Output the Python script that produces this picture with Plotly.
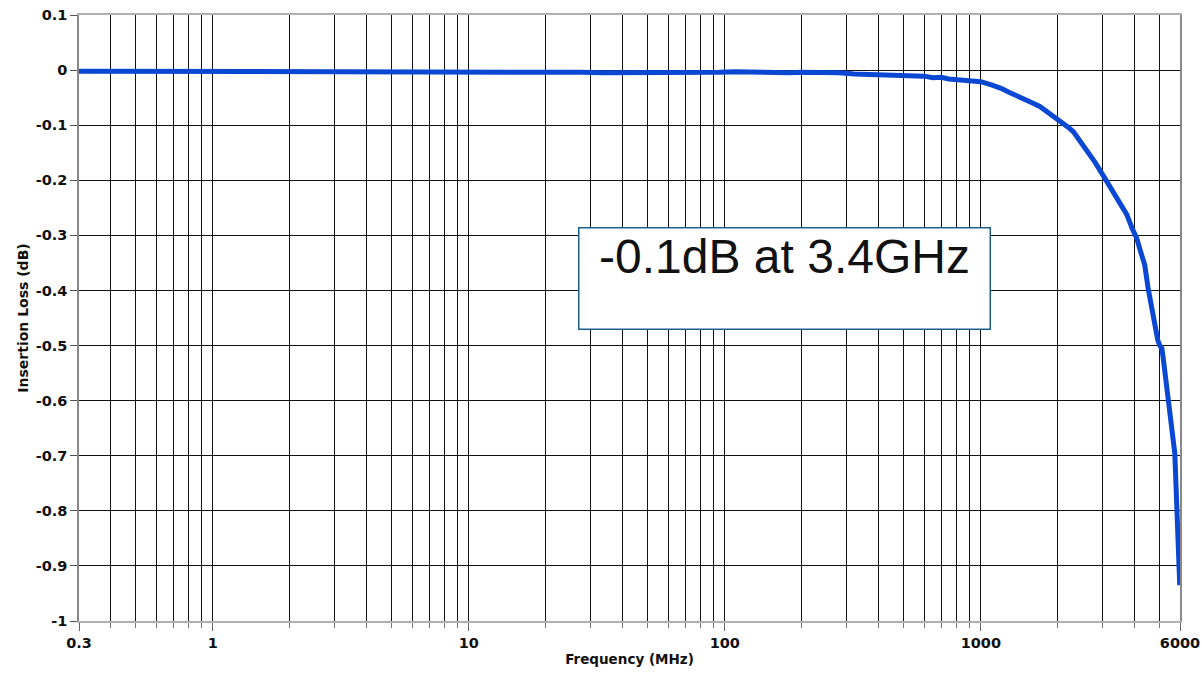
import plotly.graph_objects as go
import math

# Frequency (MHz) and insertion loss (dB)
freq_mhz = [0.3, 1, 5, 10, 11, 18.9, 19.5, 26.7, 27.5, 33, 40, 50, 60, 70, 80, 95,
            110, 130, 150, 180, 200, 220, 250, 280, 320, 360, 400, 450, 500, 550,
            600, 650, 700, 750, 800, 900, 1000, 1100, 1200, 1300, 1400, 1500, 1600,
            1700, 1800, 1900, 2000, 2100, 2200, 2300, 2440, 2600, 2800, 3050, 3300,
            3500, 3715, 3900, 4064, 4200, 4370, 4500, 4570, 4700, 4800, 4912, 5000,
            5095, 5150, 5236, 5350, 5470, 5600, 5727, 5834, 5900, 5986]
loss_db = [-0.002, -0.002, -0.002, -0.002, -0.004, -0.004, -0.002, -0.002, -0.004,
           -0.005, -0.005, -0.004, -0.005, -0.006, -0.004, -0.004, -0.003, -0.004,
           -0.004, -0.005, -0.004, -0.004, -0.006, -0.005, -0.007, -0.008, -0.008,
           -0.010, -0.010, -0.012, -0.011, -0.014, -0.013, -0.016, -0.017, -0.018,
           -0.021, -0.027, -0.033, -0.041, -0.047, -0.054, -0.060, -0.066, -0.074,
           -0.081, -0.089, -0.097, -0.104, -0.112, -0.128, -0.145, -0.168, -0.196,
           -0.222, -0.240, -0.262, -0.287, -0.305, -0.328, -0.354, -0.395, -0.414,
           -0.440, -0.470, -0.490, -0.500, -0.505, -0.520, -0.547, -0.580, -0.620,
           -0.660, -0.696, -0.796, -0.850, -0.935]

x_tick_vals = [0.3, 1, 10, 100, 1000, 6000]
x_tick_text = ["0.3", "1", "10", "100", "1000", "6000"]
x_minor_vals = [0.4, 0.5, 0.6, 0.7, 0.8, 0.9,
                2, 3, 4, 5, 6, 7, 8, 9,
                20, 30, 40, 50, 60, 70, 80, 90,
                200, 300, 400, 500, 600, 700, 800, 900,
                2000, 3000, 4000, 5000]
y_tick_vals = [0.1, 0, -0.1, -0.2, -0.3, -0.4, -0.5, -0.6, -0.7, -0.8, -0.9, -1]
y_tick_text = ["0.1", "0", "-0.1", "-0.2", "-0.3", "-0.4", "-0.5", "-0.6",
               "-0.7", "-0.8", "-0.9", "-1"]

note_text = "-0.1dB at 3.4GHz"


def bold(items):
    return ["<b>" + s + "</b>" for s in items]


tick_font = dict(family="DejaVu Sans", size=14.5, color="#111111")

fig = go.Figure()
fig.add_trace(go.Scatter(
    x=freq_mhz, y=loss_db, mode="lines",
    line=dict(color="#0a48d4", width=5),
    showlegend=False, hoverinfo="skip",
))

fig.update_layout(
    width=1202, height=677,
    margin=dict(l=79, r=22, t=15, b=56),
    paper_bgcolor="white", plot_bgcolor="white",
    xaxis=dict(
        type="log", automargin=False,
        range=[math.log10(0.3), math.log10(6000)],
        tickmode="array", tickvals=x_tick_vals, ticktext=bold(x_tick_text),
        tickfont=tick_font,
        ticks="outside", ticklen=8, tickwidth=1.2, tickcolor="#666666",
        showgrid=True, gridcolor="#111111", gridwidth=1.4,
        showline=True, linecolor="#b0b0b0", linewidth=1.5, mirror=True,
        zeroline=False,
        minor=dict(tickmode="array", tickvals=x_minor_vals,
                   ticks="outside", ticklen=5, tickwidth=1.2, tickcolor="#777777",
                   showgrid=True, gridcolor="#111111", gridwidth=1.4),
        title=dict(text="<b>Frequency (MHz)</b>",
                   font=dict(family="DejaVu Sans", size=13.5, color="#111111"), standoff=4),
    ),
    yaxis=dict(
        range=[-1, 0.1], automargin=False,
        tickmode="array", tickvals=y_tick_vals, ticktext=bold(y_tick_text),
        tickfont=tick_font,
        ticks="outside", ticklen=7, tickwidth=1.2, tickcolor="#555555",
        showgrid=True, gridcolor="#111111", gridwidth=1.4,
        showline=True, linecolor="#888888", linewidth=1.5, mirror=True,
        zeroline=False,
        title=dict(text="<b>Insertion Loss (dB)</b>",
                   font=dict(family="DejaVu Sans", size=14, color="#111111"), standoff=4),
    ),
    annotations=[dict(
        xref="paper", yref="paper", x=0.6412, y=0.5655,
        xanchor="center", yanchor="middle",
        text=note_text, showarrow=False,
        font=dict(family="Liberation Sans", size=48, color="#111111"),
        bgcolor="white", bordercolor="#1d5e8c", borderwidth=1.5, borderpad=1,
        width=408, height=98, align="center", valign="top",
    )],
)

fig.write_html("out.html")
